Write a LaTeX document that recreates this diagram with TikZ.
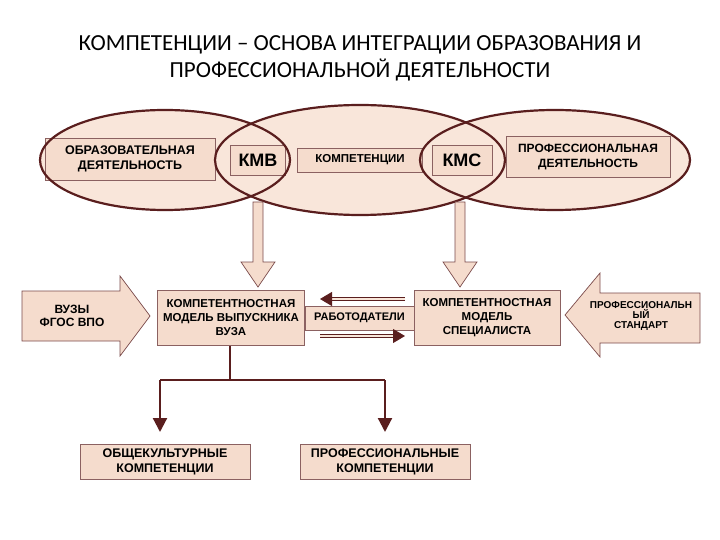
\documentclass[tikz,border=0pt]{standalone}
\usepackage{fontspec}
\setmainfont{Liberation Sans}
\newfontfamily\titlefont{Carlito}
\usetikzlibrary{arrows.meta}
\definecolor{brn}{HTML}{5A1E1E}
\definecolor{pk}{HTML}{F9E6DA}
\definecolor{bx}{HTML}{F5DCCD}
\begin{document}
\begin{tikzpicture}[x=1pt,y=-1pt,
  box/.style={draw=brn!70,line width=0.6pt,fill=bx,align=center,font=\bfseries\fontsize{12.5}{15}\selectfont,inner sep=1pt},
  big/.style={draw=brn!80,line width=0.7pt,fill=bx},
  ln/.style={draw=brn,line width=2.2pt}]
\useasboundingbox (0,0) rectangle (720,540);
\node[font=\titlefont\fontsize{23}{27}\selectfont,align=center] (title) at (360,58) {КОМПЕТЕНЦИИ – ОСНОВА ИНТЕГРАЦИИ ОБРАЗОВАНИЯ И\\ПРОФЕССИОНАЛЬНОЙ ДЕЯТЕЛЬНОСТИ};
\fill[pk] (165,160) ellipse [x radius=125,y radius=50];
\fill[pk] (360,160) ellipse [x radius=145,y radius=55];
\fill[pk] (555,160) ellipse [x radius=135,y radius=50];
\node[box,minimum width=170,minimum height=42] (obr) at (130,159) {ОБРАЗОВАТЕЛЬНАЯ\\ДЕЯТЕЛЬНОСТЬ};
\node[box,minimum width=55,minimum height=30,font=\bfseries\fontsize{18}{19}\selectfont] (kmv) at (258,160) {КМВ};
\node[box,minimum width=125,minimum height=24,font=\bfseries\fontsize{11.5}{13}\selectfont] (komp) at (360,160) {КОМПЕТЕНЦИИ};
\node[box,minimum width=60,minimum height=30,font=\bfseries\fontsize{18}{19}\selectfont] (kms) at (462,160) {КМС};
\node[box,minimum width=164,minimum height=41,font=\bfseries\fontsize{12}{15}\selectfont] (prof) at (588,157) {ПРОФЕССИОНАЛЬНАЯ\\ДЕЯТЕЛЬНОСТЬ};
\draw[brn,line width=2.2pt] (165,160) ellipse [x radius=125,y radius=50];
\draw[brn,line width=2.2pt] (360,160) ellipse [x radius=145,y radius=55];
\draw[brn,line width=2.2pt] (555,160) ellipse [x radius=135,y radius=50];
\foreach \x in {258,460}{
\draw[big] (\x-5,202) -- (\x+5,202) -- (\x+5,262) -- (\x+17,262) -- (\x,287) -- (\x-17,262) -- (\x-5,262) -- cycle;}
\node[box,minimum width=147,minimum height=55,font=\bfseries\fontsize{11.5}{14}\selectfont] (kmvb) at (231,318) {КОМПЕТЕНТНОСТНАЯ\\МОДЕЛЬ ВЫПУСКНИКА\\ВУЗА};
\node[box,minimum width=146,minimum height=55,font=\bfseries\fontsize{11.5}{14}\selectfont] (kmsb) at (487,318) {КОМПЕТЕНТНОСТНАЯ\\МОДЕЛЬ\\СПЕЦИАЛИСТА};
\node[box,minimum width=109,minimum height=24,font=\bfseries\fontsize{11}{13}\selectfont] (rab) at (359.5,318) {РАБОТОДАТЕЛИ};
\draw[big] (22,291) -- (120,291) -- (120,276) -- (150,316) -- (120,356) -- (120,341) -- (22,341) -- cycle;
\node[font=\bfseries\fontsize{12}{13}\selectfont,align=center] (vuz) at (72,316) {ВУЗЫ\\ФГОС ВПО};
\draw[big] (700,293) -- (600,293) -- (600,273) -- (565,315) -- (600,357) -- (600,343) -- (700,343) -- cycle;
\node[font=\bfseries\fontsize{10}{10}\selectfont,align=center] (ps) at (641,316) {ПРОФЕССИОНАЛЬН\\ЫЙ\\СТАНДАРТ};
\draw[brn,double=pk,double distance=1.5pt,line width=1pt,-{Triangle[length=12pt,width=14pt]}] (405,299) -- (320,299);
\draw[brn,double=pk,double distance=1.5pt,line width=1pt,-{Triangle[length=12pt,width=14pt]}] (320,336) -- (405,336);
\node[box,minimum width=170,minimum height=35] (ob) at (165,462) {ОБЩЕКУЛЬТУРНЫЕ\\КОМПЕТЕНЦИИ};
\node[box,minimum width=170,minimum height=35] (pr) at (385,462) {ПРОФЕССИОНАЛЬНЫЕ\\КОМПЕТЕНЦИИ};
\coordinate (j) at (230,380);
\draw[ln] (kmvb.south -| j) -- (j);
\draw[ln] (160,380) -- (385,380);
\draw[ln,-{Triangle[length=14pt,width=14pt]}] (160,380) -- (160,432);
\draw[ln,-{Triangle[length=14pt,width=14pt]}] (385,380) -- (385,432);
\end{tikzpicture}
\end{document}
